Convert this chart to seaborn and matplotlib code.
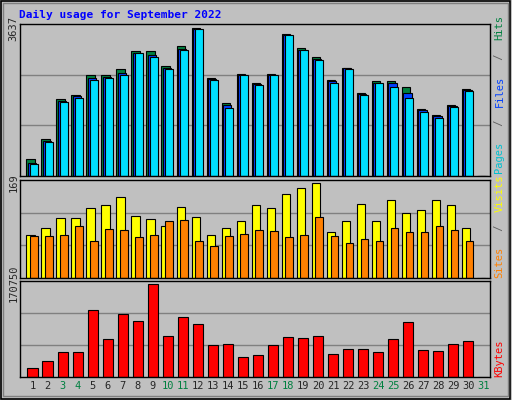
import numpy as np
import matplotlib
matplotlib.use('Agg')
import matplotlib.pyplot as plt
import seaborn as sns

days = np.arange(1, 32)
day_labels = [str(d) for d in days]
weekend_days = [3, 4, 10, 11, 17, 18, 24, 25, 31]

# day 31 has no data yet
hits = [411, 905, 1909, 2008, 2477, 2477, 2625, 3069, 3069, 2699, 3193, 3637, 2403, 1810, 2502,
        2304, 2502, 3497, 3144, 2921, 2378, 2674, 2057, 2329, 2353, 2205, 1662, 1514, 1761, 2156, 0]
files = [330, 870, 1860, 1960, 2420, 2430, 2540, 3040, 2990, 2650, 3140, 3625, 2390, 1740, 2490,
         2270, 2490, 3480, 3110, 2880, 2340, 2650, 2030, 2300, 2280, 2057, 1620, 1480, 1735, 2130, 0]
pages = [304, 848, 1835, 1934, 2378, 2403, 2477, 3020, 2921, 2625, 3094, 3613, 2378, 1687, 2477,
         2255, 2477, 3464, 3094, 2847, 2304, 2625, 2008, 2280, 2205, 1934, 1588, 1440, 1712, 2107, 0]
visits = [77, 88, 107, 107, 124, 129, 144, 111, 105, 92, 127, 109, 77, 88, 101,
          130, 124, 149, 160, 169, 81, 101, 132, 101, 138, 116, 121, 138, 130, 88, 0]
sites = [74, 74, 77, 92, 65, 87, 85, 72, 77, 101, 103, 66, 57, 75, 79,
         85, 83, 72, 77, 108, 74, 63, 70, 65, 88, 81, 81, 92, 85, 66, 0]
kbytes = [15575, 28658, 45479, 45479, 122108, 69776, 114632, 101549, 170750, 75383, 109025, 95942,
          58562, 60431, 36134, 39872, 58562, 73514, 71645, 75383, 41741, 51086, 51086, 45479,
          69776, 99680, 49217, 47348, 60431, 66038, 0]

GRAY = '#C0C0C0'
sns.set_style('white')
plt.rcParams['font.family'] = ['DejaVu Sans Mono']

fig = plt.figure(figsize=(5.12, 4.0), dpi=100, facecolor=GRAY)
# bevelled frame
fig.patches.append(plt.Rectangle((0.002, 0.003), 0.994, 0.994, transform=fig.transFigure,
                                 fill=False, edgecolor='black', linewidth=1.2))
fig.patches.append(plt.Rectangle((0.006, 0.01), 0.986, 0.983, transform=fig.transFigure,
                                 fill=False, edgecolor='#808080', linewidth=1))
fig.text(0.037, 0.975, 'Daily usage for September 2022', color='#0000FF', fontsize=8,
         fontweight='bold', va='top', ha='left')

ax1 = fig.add_axes([0.039, 0.56, 0.918, 0.38])
ax2 = fig.add_axes([0.039, 0.305, 0.918, 0.245])
ax3 = fig.add_axes([0.039, 0.058, 0.918, 0.24])

def style(ax, ymax, label):
    ax.set_facecolor(GRAY)
    ax.set_xlim(0.4, 31.7)
    ax.set_ylim(0, ymax * 1.03)
    for f in (1 / 3, 2 / 3):
        ax.axhline(ymax * 1.03 * f, color='#808080', linewidth=1, zorder=0)
    ax.set_yticks([ymax])
    ax.set_yticklabels([label], rotation=90, va='center', fontsize=7.5)
    ax.tick_params(axis='y', length=0, pad=1)
    ax.set_xticks([])
    for s in ax.spines.values():
        s.set_color('black')
        s.set_linewidth(1)

ek = dict(edgecolor='black', linewidth=0.8)
ax1.bar(days + 0.1, hits, width=0.55, color='#008040', **ek)
ax1.bar(days + 0.2, files, width=0.55, color='#0040FF', **ek)
ax1.bar(days + 0.32, pages, width=0.55, color='#00E0FF', **ek)
style(ax1, 3637, '3637')

ax2.bar(days + 0.1, visits, width=0.55, color='#FFFF00', **ek)
ax2.bar(days + 0.33, sites, width=0.5, color='#FF8000', **ek)
style(ax2, 169, '169')

ax3.bar(days + 0.25, kbytes, width=0.7, color='#FF0000', **ek)
style(ax3, 170750, '170750')
ax3.set_xticks(days + 0.25)
ax3.set_xticklabels(day_labels, fontsize=7.5)
ax3.tick_params(axis='x', length=0, pad=3)
for d, t in zip(days, ax3.get_xticklabels()):
    if d in weekend_days:
        t.set_color('#008040')

def side_label(ax, parts, fy0):
    y = fy0
    for txt, col in parts:
        ax.text(1.02, y, txt, color=col, rotation=90, transform=ax.transAxes,
                ha='center', va='bottom', fontsize=7.5)
        y += 0.052 * len(txt) * (0.38 / ax.get_position().height) + 0.01 * (0.38 / ax.get_position().height)

side_label(ax1, [('Pages', '#00C0D0'), (' / ', '#606060'), ('Files', '#0040FF'),
                 (' / ', '#606060'), ('Hits', '#008040')], 0.02)
side_label(ax2, [('Sites', '#FF8000'), (' / ', '#606060'), ('Visits', '#FFFF00')], 0.0)
side_label(ax3, [('KBytes', '#FF0000')], 0.0)

fig.savefig('out.png', dpi=100, facecolor=GRAY)
